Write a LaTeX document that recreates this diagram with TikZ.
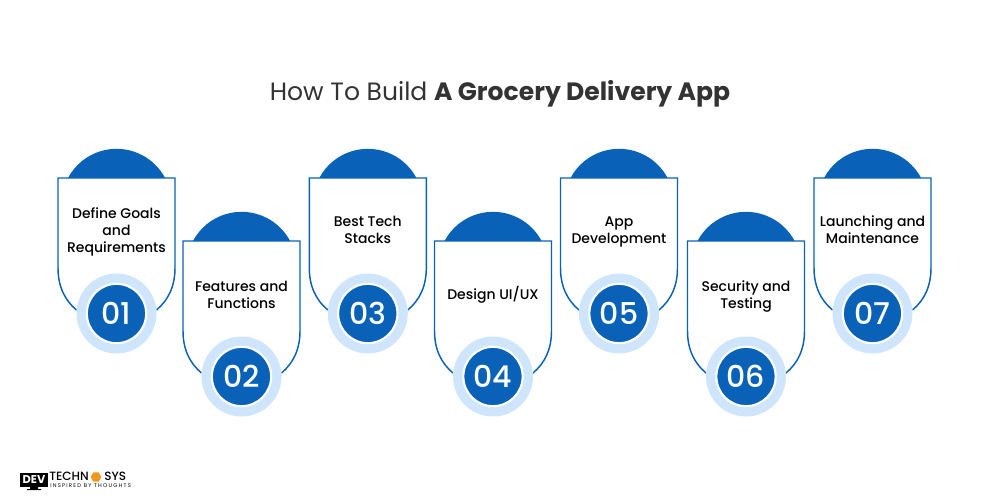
\documentclass[tikz,border=0pt]{standalone}
\usepackage{fontspec}
\setmainfont{Poppins}
\newfontfamily\stepfont{Poppins Medium}
\usetikzlibrary{shapes.geometric}
\definecolor{stepblue}{RGB}{9,98,184}
\definecolor{steplight}{RGB}{207,229,252}
\definecolor{titlegrey}{RGB}{51,51,51}
\definecolor{logoorange}{RGB}{240,150,30}
\tikzset{
  steptext/.style={align=center,inner sep=0pt,text=black,font=\stepfont\fontsize{10.5}{12.8}\selectfont},
  stepnum/.style={circle,fill=stepblue,draw=white,line width=1.6pt,minimum size=44.5pt,inner sep=0pt,text=white,font=\stepfont\fontsize{22.5}{22.5}\selectfont},
  stepring/.style={circle,fill=steplight,minimum size=60pt,inner sep=0pt},
  logotext/.style={inner sep=0pt,anchor=west,text=black}
}
\newcommand\stepcard[5]{
\begin{scope}[shift={(#2,#3)}]
\fill[stepblue] (-48.5,0) arc[start angle=-152,end angle=-28,radius=55] -- cycle;
\draw[stepblue,line width=1.1pt,fill=white] (-40,132) .. controls (-52,122) and (-58.5,108) .. (-58.5,90) -- (-58.5,0) -- (58.5,0) -- (58.5,90) .. controls (58.5,108) and (52,122) .. (40,132);
\node[stepring] (ring#1) at (0,135.5) {};
\node[stepnum] (num#1) at (ring#1) {0#1};
\node[steptext] (text#1) at (0,#4) {\strut #5\strut};
\end{scope}}

\begin{document}
\begin{tikzpicture}[x=0.75pt,y=-0.75pt]
\useasboundingbox (0,0) rectangle (1000,500);
\node[inner sep=0pt,text=titlegrey,font=\fontsize{18.8}{24}\selectfont] (title) at (500,93.5) {How To Build \textbf{A Grocery Delivery App}};

\stepcard{1}{116.5}{178}{54}{Define Goals\\and\\Requirements}
\stepcard{2}{241.5}{241}{55.5}{Features and\\Functions}
\stepcard{3}{367.8}{178}{54}{Best Tech\\Stacks}
\stepcard{4}{493}{241}{54}{Design UI/UX}
\stepcard{5}{619}{178}{54}{App\\Development}
\stepcard{6}{746}{241}{55.5}{Security and\\Testing}
\stepcard{7}{872.5}{178}{54}{Launching and\\Maintenance}

% logo
\fill[black] (20,473) rectangle (48,487);
\fill[black] (30,487) rectangle (38,489) (27,489) rectangle (41,490);
\node[inner sep=0pt,text=white,font=\bfseries\fontsize{8.5}{8.5}\selectfont] (logodev) at (34,480) {DEV};
\node[logotext,font=\stepfont\fontsize{9}{9}\selectfont] (logotech) at (49,476.5) {TECHN};
\node[regular polygon,regular polygon sides=6,fill=logoorange,minimum size=8pt,inner sep=0pt] (logohex) at (96,477) {};
\node[logotext,font=\stepfont\fontsize{9}{9}\selectfont] (logosys) at (104,476.5) {SYS};
\node[logotext,font=\fontsize{4}{4}\selectfont\addfontfeature{LetterSpace=23}] (logotag) at (50,486) {INSPIRED BY THOUGHTS};
\end{tikzpicture}
\end{document}
